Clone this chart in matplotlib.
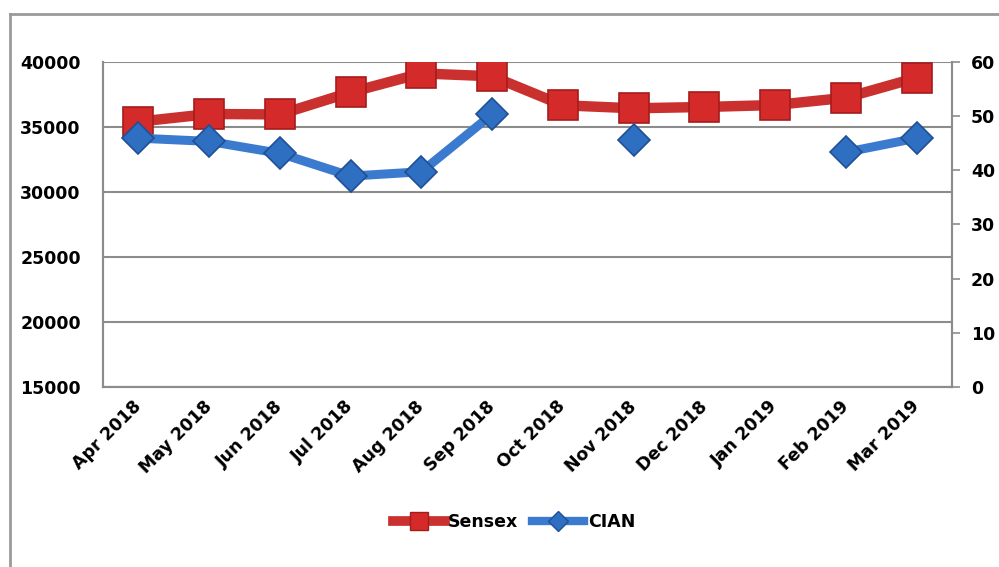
import numpy as np
import matplotlib
matplotlib.use("Agg")
import matplotlib.pyplot as plt
from matplotlib.transforms import ScaledTranslation
from matplotlib.lines import Line2D

months = ["Apr 2018", "May 2018", "Jun 2018", "Jul 2018", "Aug 2018", "Sep 2018",
          "Oct 2018", "Nov 2018", "Dec 2018", "Jan 2019", "Feb 2019", "Mar 2019"]
sensex = [35390, 35980, 35950, 37650, 39100, 38880, 36650, 36420, 36520, 36670, 37230, 38770]
cian = [45.9, 45.3, 43.1, 38.9, 39.7, 50.3, np.nan, 45.6, np.nan, np.nan, 43.3, 45.9]
left_ticks = [15000, 20000, 25000, 30000, 35000, 40000]
right_ticks = [0, 10, 20, 30, 40, 50, 60]

plt.rcParams['font.family'] = ['DejaVu Sans']

fig = plt.figure(figsize=(9.99, 5.67), dpi=100)
ax = fig.add_axes([103/999, 1-387/567, (952-103)/999, (387-61.7)/567])
ax2 = ax.twinx()

grid_c = "#8c8c8c"
x = np.arange(len(months))

ax.plot(x, sensex, color="#c9302e", lw=7.5, solid_capstyle="round", zorder=3,
        marker="s", markersize=22, markerfacecolor="#d42b2a", markeredgecolor="#a51c1c",
        markeredgewidth=1.2)
ax2.plot(x, cian, color="#3b7bcf", lw=6.5, solid_capstyle="round", zorder=3,
         marker="D", markersize=16.5, markerfacecolor="#2f6fc2", markeredgecolor="#1f5096",
         markeredgewidth=1.2)

ax.set_xlim(-0.5, len(months) - 0.5)
ax.set_ylim(15000, 40000)
ax2.set_ylim(0, 60)
ax.set_yticks(left_ticks)
ax2.set_yticks(right_ticks)
ax.set_xticks(x)
ax.set_xticklabels(months, rotation=45, ha="right", va="center", rotation_mode="anchor",
                   fontsize=12.5, fontweight="bold")
off = ScaledTranslation(8/100, 0, fig.dpi_scale_trans)
for lab in ax.get_xticklabels():
    lab.set_transform(lab.get_transform() + off)

ax.yaxis.grid(True, color=grid_c, lw=1.5)
ax.set_axisbelow(True)
ax.tick_params(axis="y", length=0, pad=16, labelsize=12.5)
ax.tick_params(axis="x", length=0, pad=12)
for lab in ax.get_yticklabels():
    lab.set_fontweight("bold")
ax2.tick_params(axis="y", length=6, width=1.2, color=grid_c, pad=7.5, labelsize=12.5)
for lab in ax2.get_yticklabels():
    lab.set_fontweight("bold")

for a in (ax, ax2):
    for s in a.spines.values():
        s.set_color(grid_c)
        s.set_linewidth(1.5)
ax.spines["top"].set_visible(False)
ax2.spines["top"].set_visible(False)

# legend
h1 = Line2D([], [], color="#c9302e", lw=7, marker="s", markersize=13,
            markerfacecolor="#d42b2a", markeredgecolor="#a51c1c")
h2 = Line2D([], [], color="#3b7bcf", lw=6, marker="D", markersize=10,
            markerfacecolor="#2f6fc2", markeredgecolor="#1f5096")
fig.legend([h1, h2], ["Sensex", "CIAN"], loc="center", bbox_to_anchor=(514/999, 1-522/567),
           ncol=2, frameon=False, handlelength=3.0, handletextpad=0.2, columnspacing=0.8,
           prop={"weight": "bold", "size": 12.5})

# outer frame (partially visible)
fig.add_artist(plt.Line2D([10/999, 10/999], [0, 1-14/567], transform=fig.transFigure,
                          color="#9a9a9a", lw=2))
fig.add_artist(plt.Line2D([10/999, 1], [1-14/567, 1-14/567], transform=fig.transFigure,
                          color="#9a9a9a", lw=2))

fig.savefig("out.png", dpi=100)
